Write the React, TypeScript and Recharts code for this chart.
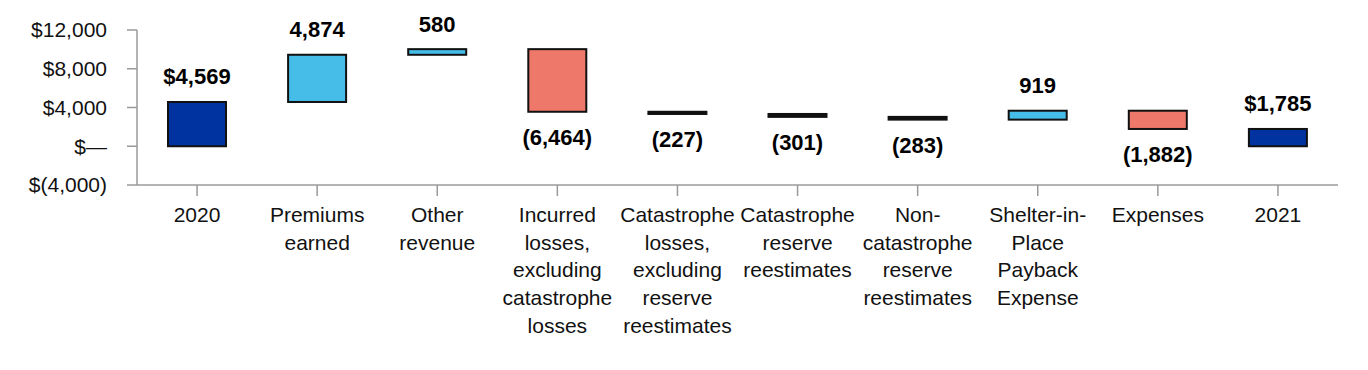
import React from 'react';
import { ComposedChart, Bar, XAxis, YAxis, Cell, LabelList } from 'recharts';

const categories = [
  '2020',
  'Premiums earned',
  'Other revenue',
  'Incurred losses, excluding catastrophe losses',
  'Catastrophe losses, excluding reserve reestimates',
  'Catastrophe reserve reestimates',
  'Non-catastrophe reserve reestimates',
  'Shelter-in-Place Payback Expense',
  'Expenses',
  '2021',
];

const tickLines: string[][] = [
  ['2020'],
  ['Premiums', 'earned'],
  ['Other', 'revenue'],
  ['Incurred', 'losses,', 'excluding', 'catastrophe', 'losses'],
  ['Catastrophe', 'losses,', 'excluding', 'reserve', 'reestimates'],
  ['Catastrophe', 'reserve', 'reestimates'],
  ['Non-', 'catastrophe', 'reserve', 'reestimates'],
  ['Shelter-in-', 'Place', 'Payback', 'Expense'],
  ['Expenses'],
  ['2021'],
];

const values = [4569, 4874, 580, -6464, -227, -301, -283, 919, -1882, 1785];
const kinds = ['total', 'delta', 'delta', 'delta', 'delta', 'delta', 'delta', 'delta', 'delta', 'total'];
const valueLabels = ['$4,569', '4,874', '580', '(6,464)', '(227)', '(301)', '(283)', '919', '(1,882)', '$1,785'];

const yTicks = [-4000, 0, 4000, 8000, 12000];
const yTickLabels: Record<number, string> = {
  [-4000]: '$(4,000)',
  0: '$\u2014',
  4000: '$4,000',
  8000: '$8,000',
  12000: '$12,000',
};

const COLOR_TOTAL = '#0033A0';
const COLOR_UP = '#46BCE8';
const COLOR_DOWN = '#EE786A';
const OUTLINE = '#111';
const FONT = '"Liberation Sans", Arial, Helvetica, sans-serif';

type Row = { name: string; range: [number, number]; color: string; neg: boolean; label: string };

const data: Row[] = (() => {
  let running = 0;
  return categories.map((name, i) => {
    const v = values[i];
    let range: [number, number];
    let color: string;
    if (kinds[i] === 'total') {
      range = [0, v];
      running = v;
      color = COLOR_TOTAL;
    } else {
      const next = running + v;
      range = [Math.min(running, next), Math.max(running, next)];
      running = next;
      color = v >= 0 ? COLOR_UP : COLOR_DOWN;
    }
    return { name, range, color, neg: v < 0, label: valueLabels[i] };
  });
})();

const XTick = (props: any) => {
  const { x, y, payload, index } = props;
  const idx = typeof index === 'number' ? index : categories.indexOf(payload.value);
  const lines = tickLines[idx] || [String(payload.value)];
  return (
    <text x={x} y={y + 26} textAnchor="middle" fill="#111" fontSize={21} fontFamily={FONT}>
      {lines.map((l, i) => (
        <tspan key={i} x={x} dy={i === 0 ? 0 : 27.7}>
          {l}
        </tspan>
      ))}
    </text>
  );
};

const BarShape = (props: any) => {
  const { x, y, width, height, fill } = props;
  const top = Math.min(y, y + height);
  const h = Math.abs(height);
  const thin = h < 4;
  return (
    <rect
      x={x}
      y={top}
      width={width}
      height={Math.max(h, 0.5)}
      fill={thin ? OUTLINE : fill}
      stroke={OUTLINE}
      strokeWidth={2}
    />
  );
};

const BarLabel = (props: any) => {
  const { x, y, width, height, index } = props;
  const row = data[index];
  if (!row) return null;
  const top = Math.min(y, y + height);
  const bottom = Math.max(y, y + height);
  const cx = x + width / 2;
  const ty = row.neg ? bottom + 33 : top - 17.5;
  return (
    <text x={cx} y={ty} textAnchor="middle" fill="#000" fontSize={22} fontWeight="bold" fontFamily={FONT}>
      {row.label}
    </text>
  );
};

export default function App() {
  return (
    <div style={{ width: 1360, height: 362 }}>
      <ComposedChart
        width={1360}
        height={362}
        data={data}
        margin={{ top: 22, right: 30, bottom: 0, left: 0 }}
        barCategoryGap={0}
      >
        <XAxis
          dataKey="name"
          interval={0}
          height={185}
          tickSize={11}
          tickMargin={0}
          tick={<XTick />}
          axisLine={{ stroke: '#9a9a9a', strokeWidth: 1.5 }}
          tickLine={{ stroke: '#9a9a9a', strokeWidth: 1.5 }}
        />
        <YAxis
          width={129}
          domain={[-4000, 12000]}
          ticks={yTicks}
          allowDataOverflow
          tickSize={10}
          tickMargin={20}
          tickFormatter={(v: number) => yTickLabels[v] ?? String(v)}
          tick={{ fill: '#111', fontSize: 21, fontFamily: FONT }}
          axisLine={{ stroke: '#9a9a9a', strokeWidth: 1.5 }}
          tickLine={{ stroke: '#9a9a9a', strokeWidth: 1.5 }}
        />
        <Bar dataKey="range" barSize={58} shape={<BarShape />} isAnimationActive={false}>
          {data.map((d, i) => (
            <Cell key={i} fill={d.color} />
          ))}
          <LabelList dataKey="label" content={<BarLabel />} />
        </Bar>
      </ComposedChart>
    </div>
  );
}
